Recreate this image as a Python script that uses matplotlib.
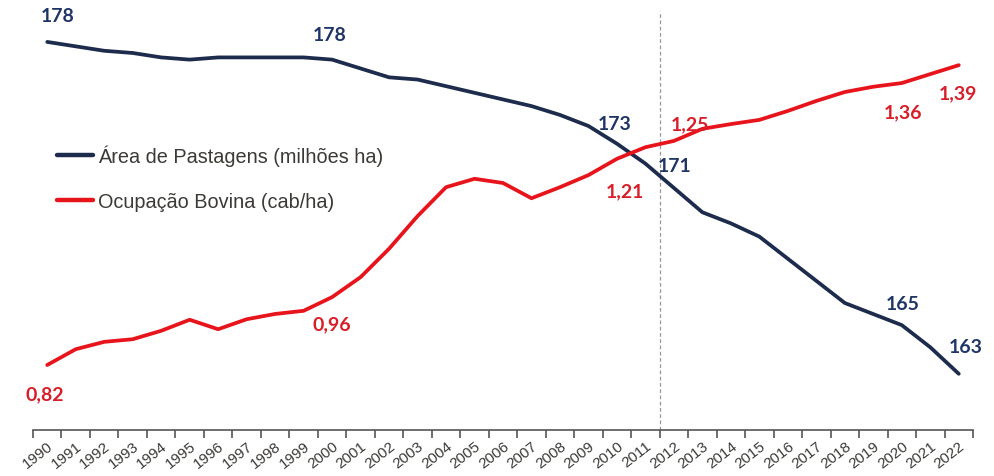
import numpy as np
import matplotlib
matplotlib.use("Agg")
import matplotlib.pyplot as plt

years = list(range(1990, 2023))

# área de pastagens (milhões ha)
area = [178.0, 177.8, 177.6, 177.5, 177.3, 177.2, 177.3, 177.3, 177.3, 177.3,
        177.2, 176.8, 176.4, 176.3, 176.0, 175.7, 175.4, 175.1, 174.7, 174.2,
        173.4, 172.5, 171.4, 170.3, 169.8, 169.2, 168.2, 167.2, 166.2, 165.7,
        165.2, 164.2, 163.0]

# ocupação bovina (cab/ha)
lotacao = [0.82, 0.85, 0.864, 0.869, 0.885, 0.906, 0.888, 0.907, 0.917, 0.923,
           0.949, 0.987, 1.041, 1.103, 1.158, 1.174, 1.166, 1.137, 1.158, 1.181,
           1.212, 1.234, 1.246, 1.269, 1.278, 1.286, 1.303, 1.322, 1.339, 1.349,
           1.356, 1.373, 1.39]

area_labels = {1990: "178", 2000: "178", 2010: "173", 2012: "171", 2020: "165", 2022: "163"}
lot_labels = {1990: "0,82", 2000: "0,96", 2010: "1,21", 2012: "1,25", 2020: "1,36", 2022: "1,39"}

BLUE = "#1d2c4c"
BLUE_TXT = "#1f3566"
RED = "#e8141c"
RED_TXT = "#d81e28"
TXT = "#3c3a36"

fig = plt.figure(figsize=(9.95, 4.77), dpi=100)
ax = fig.add_axes([33 / 995, 1 - 431 / 477, 940 / 995, 431 / 477])
ax2 = ax.twinx()

l1, = ax.plot(years, area, color=BLUE, lw=2.7, solid_capstyle="round", solid_joinstyle="round",
              label="Área de Pastagens (milhões ha)", zorder=3)
l2, = ax2.plot(years, lotacao, color=RED, lw=2.7, solid_capstyle="round", solid_joinstyle="round",
               label="Ocupação Bovina (cab/ha)", zorder=3)

ax.set_xlim(1989.5, 2022.5)
ax.set_ylim(160.46, 179.94)
ax2.set_ylim(0.6964, 1.5158)

for a in (ax, ax2):
    for s in ("top", "right", "left"):
        a.spines[s].set_visible(False)
    a.set_yticks([])
ax2.spines["bottom"].set_visible(False)
ax.spines["bottom"].set_color("#555555")
ax.spines["bottom"].set_linewidth(1.2)

ax.set_xticks(np.arange(1989.5, 2023.0, 1.0))
ax.set_xticklabels([])
ax.tick_params(axis="x", which="major", direction="out", length=6, width=1.2, color="#555555")
ax.set_xticks(years, minor=True)
ax.set_xticklabels([str(y) for y in years], minor=True, rotation=38, ha="right",
                   rotation_mode="anchor", fontsize=11, color=TXT, family="Liberation Sans")
ax.tick_params(axis="x", which="minor", length=0, pad=6)

ax.axvline(2011.5, ymin=0, ymax=0.972, color="#999999", lw=0.9, ls=(0, (3, 2)), zorder=1)

# rótulos de dados
area_off = {1990: (10, 26), 2000: (-2, 25), 2010: (-2, 20), 2012: (1, 22), 2020: (1, 22), 2022: (7, 27)}
lot_off = {1990: (-2, -29), 2000: (0, -27), 2010: (8, -32), 2012: (16, 17), 2020: (1, -29), 2022: (-1, -28)}

for yr, txt in area_labels.items():
    ax.annotate(txt, (yr, area[years.index(yr)]), xytext=area_off[yr], textcoords="offset pixels",
                ha="center", va="center", fontsize=14, fontweight="bold", color=BLUE_TXT,
                family="Lato", zorder=5)
for yr, txt in lot_labels.items():
    ax2.annotate(txt, (yr, lotacao[years.index(yr)]), xytext=lot_off[yr], textcoords="offset pixels",
                 ha="center", va="center", fontsize=14, fontweight="bold", color=RED_TXT,
                 family="Lato", zorder=5)

leg = ax2.legend(handles=[l1, l2], loc="upper left", bbox_to_anchor=(0.0255, 0.663),
                 frameon=False, borderpad=0, borderaxespad=0,
                 handlelength=1.8, handletextpad=0.25, labelspacing=1.3,
                 prop={"family": "Liberation Sans", "size": 14.3})
for t in leg.get_texts():
    t.set_color(TXT)
for h in leg.get_lines():
    h.set_linewidth(3.2)

fig.savefig("out.png", dpi=100, facecolor="white")
